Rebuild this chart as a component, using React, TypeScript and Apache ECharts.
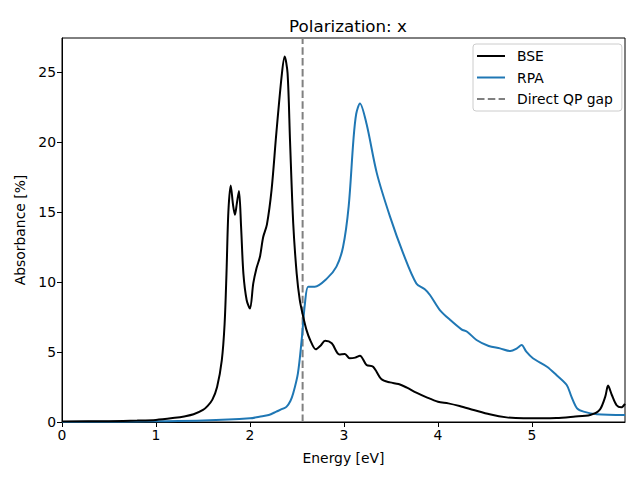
import React, { useEffect, useRef } from "react";
import * as echarts from "echarts";

const bseEnergy = [0, 0.5, 0.8, 1.0, 1.2, 1.3, 1.4, 1.5, 1.55, 1.6, 1.65, 1.7, 1.73, 1.75, 1.77, 1.795, 1.82, 1.84, 1.86, 1.883, 1.905, 1.93, 1.965, 2.0, 2.035, 2.07, 2.106, 2.14, 2.18, 2.23, 2.28, 2.34, 2.369, 2.4, 2.426, 2.46, 2.497, 2.53, 2.567, 2.6, 2.64, 2.7, 2.75, 2.8, 2.87, 2.95, 3.01, 3.06, 3.12, 3.17, 3.24, 3.31, 3.4, 3.49, 3.58, 3.67, 3.77, 3.88, 4.0, 4.11, 4.23, 4.38, 4.55, 4.73, 4.91, 5.1, 5.26, 5.44, 5.62, 5.72, 5.78, 5.81, 5.85, 5.9, 5.95, 5.99];
const bseAbs = [0.03, 0.06, 0.1, 0.15, 0.3, 0.4, 0.55, 0.86, 1.15, 1.6, 2.5, 4.4, 7.0, 10.6, 15.0, 16.9, 15.5, 14.8, 15.6, 16.5, 14.0, 10.6, 8.7, 8.1, 9.9, 11.0, 11.8, 13.2, 14.1, 16.6, 20.6, 24.9, 26.1, 24.9, 20.1, 14.2, 10.6, 8.7, 7.5, 6.6, 5.86, 5.19, 5.45, 5.8, 5.62, 4.83, 4.86, 4.55, 4.6, 4.74, 4.07, 3.95, 3.05, 2.83, 2.71, 2.45, 2.1, 1.76, 1.45, 1.33, 1.14, 0.86, 0.55, 0.33, 0.26, 0.26, 0.28, 0.38, 0.5, 0.86, 1.81, 2.6, 1.93, 1.21, 1.05, 1.3];

const rpaEnergy = [0, 0.5, 1.0, 1.5, 2.0, 2.1, 2.2, 2.28, 2.35, 2.39, 2.43, 2.46, 2.51, 2.55, 2.585, 2.62, 2.69, 2.82, 2.92, 2.99, 3.05, 3.1, 3.13, 3.17, 3.24, 3.35, 3.49, 3.63, 3.77, 3.86, 3.915, 4.02, 4.13, 4.25, 4.31, 4.41, 4.54, 4.66, 4.77, 4.84, 4.89, 4.94, 5.01, 5.16, 5.26, 5.37, 5.42, 5.48, 5.55, 5.69, 5.99];
const rpaAbs = [0.0, 0.02, 0.05, 0.1, 0.26, 0.38, 0.5, 0.74, 0.95, 1.1, 1.5, 2.05, 3.48, 5.86, 8.48, 9.67, 9.67, 10.26, 11.1, 12.5, 15.4, 20.1, 22.0, 22.76, 21.3, 17.76, 14.67, 12.05, 9.9, 9.48, 9.07, 8.0, 7.29, 6.62, 6.45, 5.86, 5.43, 5.26, 5.07, 5.26, 5.5, 5.02, 4.55, 3.95, 3.36, 2.64, 1.81, 0.98, 0.74, 0.55, 0.5];

const qpGap = 2.56;
const xMax = 5.99;
const yMax = 27.43;

const FONT = "DejaVu Sans";
const solidIcon = "path://M0,0h28v2h-28z";
const dashedIcon = "path://M0,0h7.5v2h-7.5z M10.8,0h7.5v2h-7.5z M21.6,0h6.4v2h-6.4z";

export default function App() {
  const ref = useRef<HTMLDivElement>(null);
  useEffect(() => {
    if (!ref.current) return;
    const chart = echarts.init(ref.current, null, { renderer: "svg" });
    const bse = bseEnergy.map((x, i) => [x, bseAbs[i]]);
    const rpa = rpaEnergy.map((x, i) => [x, rpaAbs[i]]);
    chart.setOption({
      animation: false,
      backgroundColor: "#ffffff",
      textStyle: { fontFamily: FONT },
      title: {
        text: "Polarization: x",
        left: 343,
        textAlign: "center",
        top: 12,
        textStyle: { fontFamily: FONT, fontSize: 16.7, fontWeight: "normal", color: "#000" },
      },
      grid: {
        left: 62,
        right: 15,
        top: 38,
        bottom: 58,
        show: true,
        borderColor: "#000",
        borderWidth: 1,
        backgroundColor: "transparent",
      },
      legend: {
        orient: "vertical",
        left: 473,
        top: 44,
        padding: [5, 9, 5, 4],
        itemWidth: 28,
        itemHeight: 14,
        itemGap: 7.5,
        symbolKeepAspect: true,
        borderColor: "#cccccc",
        borderWidth: 1,
        borderRadius: 3,
        backgroundColor: "rgba(255,255,255,0.8)",
        textStyle: { fontFamily: FONT, fontSize: 13.9, color: "#000", padding: [0, 0, 0, 7] },
        data: [
          { name: "BSE", icon: solidIcon },
          { name: "RPA", icon: solidIcon },
          { name: "Direct QP gap", icon: dashedIcon },
        ],
      },
      xAxis: {
        type: "value",
        min: 0,
        max: xMax,
        interval: 1,
        name: "Energy [eV]",
        nameLocation: "middle",
        nameGap: 29,
        nameTextStyle: { fontFamily: FONT, fontSize: 13.9, color: "#000" },
        axisLine: { show: true, lineStyle: { color: "#000", width: 1 } },
        axisTick: { show: true, inside: false, length: 5, lineStyle: { color: "#000" } },
        axisLabel: { fontFamily: FONT, fontSize: 13.9, color: "#000", margin: 6, showMaxLabel: false },
        splitLine: { show: false },
      },
      yAxis: {
        type: "value",
        min: 0,
        max: yMax,
        interval: 5,
        name: "Absorbance [%]",
        nameLocation: "middle",
        nameGap: 34,
        nameTextStyle: { fontFamily: FONT, fontSize: 13.9, color: "#000" },
        axisLine: { show: true, lineStyle: { color: "#000", width: 1 } },
        axisTick: { show: true, inside: false, length: 5, lineStyle: { color: "#000" } },
        axisLabel: { fontFamily: FONT, fontSize: 13.9, color: "#000", margin: 6, showMaxLabel: false },
        splitLine: { show: false },
      },
      series: [
        {
          name: "BSE",
          type: "line",
          data: bse,
          symbol: "none",
          smooth: 0.3,
          color: "#000000",
          lineStyle: { color: "#000000", width: 2 },
          z: 3,
        },
        {
          name: "RPA",
          type: "line",
          data: rpa,
          symbol: "none",
          smooth: 0.3,
          color: "#1f77b4",
          lineStyle: { color: "#1f77b4", width: 2 },
          z: 2,
        },
        {
          name: "Direct QP gap",
          type: "line",
          data: [[qpGap, 0], [qpGap, yMax]],
          symbol: "none",
          color: "#808080",
          lineStyle: { color: "#808080", width: 2, type: [7.5, 3.3] },
          z: 1,
        },
      ],
    });
    return () => chart.dispose();
  }, []);
  return (
    <div
      ref={ref}
      style={{ position: "fixed", left: 0, top: 0, width: 640, height: 480 }}
    />
  );
}
